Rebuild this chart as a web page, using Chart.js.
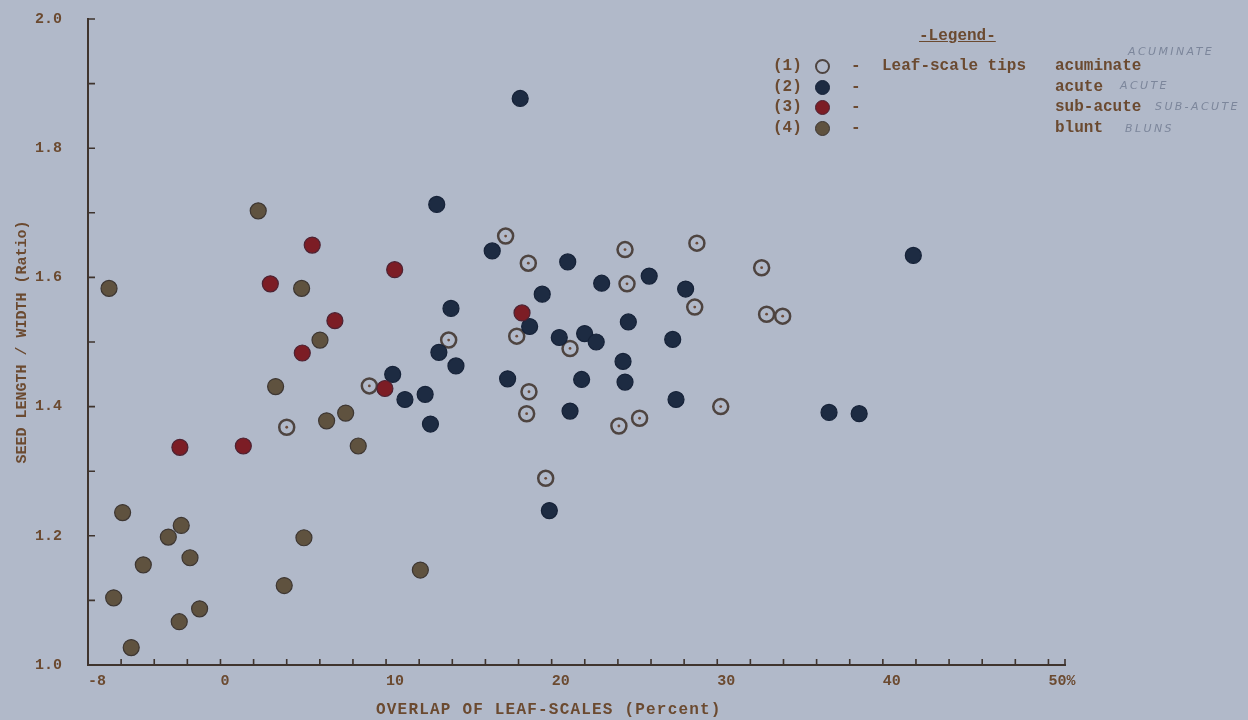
<!DOCTYPE html>
<html>
<head>
<meta charset="utf-8">
<script src="https://cdn.jsdelivr.net/npm/chart.js@4.4.1/dist/chart.umd.min.js"></script>
<style>
  html, body { margin: 0; padding: 0; }
  body { width: 1248px; height: 720px; background: #b1b9c9; position: relative; overflow: hidden; }
  #wrap { position: absolute; left: 0; top: 0; width: 1248px; height: 720px; }
  .tw { position: absolute; font-family: 'Liberation Mono', 'DejaVu Sans Mono', monospace; font-weight: bold;
        color: #6b4a30; font-size: 16px; line-height: 16px; white-space: pre; }
  .hand { position: absolute; font-family: 'DejaVu Sans', sans-serif; font-weight: 200; font-style: italic;
          color: #7c869b; font-size: 11px; line-height: 11px; letter-spacing: 2.4px; white-space: pre; }
  .dot { position: absolute; width: 15px; height: 15px; border-radius: 50%; box-sizing: border-box; }
</style>
</head>
<body>
<div id="wrap"><canvas id="chart" width="1248" height="720"></canvas></div>

<div class="tw" style="left:919px; top:28px; text-decoration: underline;">-Legend-</div>

<div class="tw" style="left:773px; top:58px;">(1)</div>
<div class="dot" style="left:815px; top:59px; border:2.5px solid #4e4440;"></div>
<div class="tw" style="left:851px; top:58px;">-</div>
<div class="tw" style="left:882px; top:58px;">Leaf-scale tips</div>
<div class="tw" style="left:1055px; top:58px;">acuminate</div>
<div class="hand" style="left:1128px; top:46px;">ACUMINATE</div>

<div class="tw" style="left:773px; top:79px;">(2)</div>
<div class="dot" style="left:815px; top:80px; background:#1d2b42; border:1px solid #162238;"></div>
<div class="tw" style="left:851px; top:79px;">-</div>
<div class="tw" style="left:1055px; top:79px;">acute</div>
<div class="hand" style="left:1120px; top:80px;">ACUTE</div>

<div class="tw" style="left:773px; top:99px;">(3)</div>
<div class="dot" style="left:815px; top:100px; background:#7c1d25; border:1px solid #4c2232;"></div>
<div class="tw" style="left:851px; top:99px;">-</div>
<div class="tw" style="left:1055px; top:99px;">sub-acute</div>
<div class="hand" style="left:1155px; top:101px;">SUB-ACUTE</div>

<div class="tw" style="left:773px; top:120px;">(4)</div>
<div class="dot" style="left:815px; top:121px; background:#5f523f; border:1px solid #3d3632;"></div>
<div class="tw" style="left:851px; top:120px;">-</div>
<div class="tw" style="left:1055px; top:120px;">blunt</div>
<div class="hand" style="left:1125px; top:123px;">BLUNS</div>

<div class="tw" id="xtitle" style="left:376px; top:702px; letter-spacing: 1.2px;"></div>

<script>
// Overlap of leaf-scales (%) and seed length / width ratio, by leaf-scale tip shape
const acuminateX = [17.22, 18.59, 24.43, 28.77, 24.55, 28.64, 17.89, 21.11, 13.78, 8.99,
                    4.00, 18.63, 18.49, 30.21, 25.31, 24.06, 19.64, 32.68, 32.98, 33.95];
const acuminateY = [1.664, 1.622, 1.643, 1.653, 1.590, 1.554, 1.509, 1.490, 1.503, 1.432,
                    1.368, 1.423, 1.389, 1.400, 1.382, 1.370, 1.289, 1.615, 1.543, 1.540];

const acuteX = [18.10, 13.06, 16.41, 20.97, 23.02, 25.89, 28.09, 19.43, 13.92, 18.67,
                20.46, 21.99, 22.69, 24.63, 27.31, 13.19, 14.22, 24.31, 17.34, 21.81,
                24.43, 21.11, 27.51, 10.40, 11.14, 12.36, 12.68, 19.86, 41.84, 36.75, 38.57];
const acuteY = [1.877, 1.713, 1.641, 1.624, 1.591, 1.602, 1.582, 1.574, 1.552, 1.524,
                1.507, 1.513, 1.500, 1.531, 1.504, 1.484, 1.463, 1.470, 1.443, 1.442,
                1.438, 1.393, 1.411, 1.450, 1.411, 1.419, 1.373, 1.239, 1.634, 1.391, 1.389];

const subAcuteX = [5.54, 10.52, 3.01, 6.91, 4.94, 9.93, -2.45, 1.38, 18.21];
const subAcuteY = [1.650, 1.612, 1.590, 1.533, 1.483, 1.428, 1.337, 1.339, 1.545];

const bluntX = [2.28, -6.73, 4.90, 6.01, 3.33, 6.41, 7.56, 8.32, -5.91, -2.37,
                -3.15, 5.04, -4.66, -1.84, 12.07, 3.85, -6.45, -1.26, -2.49, -5.39];
const bluntY = [1.703, 1.583, 1.583, 1.503, 1.431, 1.378, 1.390, 1.339, 1.236, 1.216,
                1.198, 1.197, 1.155, 1.166, 1.147, 1.123, 1.104, 1.087, 1.067, 1.027];

// Axis settings
const xMin = -8, xMax = 51, xStep = 2, xLastTick = 50;
const xLabelled = [-8, 0, 10, 20, 30, 40, 50];
const yMin = 1.0, yMax = 2.0, yStep = 0.1;
const xTitle = 'OVERLAP OF LEAF-SCALES (Percent)';
const yTitle = 'SEED LENGTH / WIDTH (Ratio)';

const INK = '#6b4a30';
const AXIS = '#3f342e';
const FONT = "'Liberation Mono', 'DejaVu Sans Mono', monospace";

document.getElementById('xtitle').textContent = xTitle;

const pts = (xs, ys) => xs.map((x, i) => ({ x: x, y: ys[i] }));

// Short tick marks drawn on the inner side of both axes
const innerTicks = {
  id: 'innerTicks',
  beforeDatasetsDraw(chart) {
    const { ctx, scales: { x, y }, chartArea } = chart;
    ctx.save();
    ctx.strokeStyle = AXIS;
    ctx.lineWidth = 1.6;
    ctx.beginPath();
    x.ticks.forEach((t, i) => {
      const px = x.getPixelForTick(i);
      ctx.moveTo(px, chartArea.bottom);
      ctx.lineTo(px, chartArea.bottom - 6);
    });
    ctx.moveTo(chartArea.right, chartArea.bottom);
    ctx.lineTo(chartArea.right, chartArea.bottom - 6);
    y.ticks.forEach((t, i) => {
      const py = y.getPixelForTick(i);
      ctx.moveTo(chartArea.left, py);
      ctx.lineTo(chartArea.left + 7, py);
    });
    ctx.stroke();
    ctx.restore();
  }
};

new Chart(document.getElementById('chart'), {
  type: 'scatter',
  data: {
    datasets: [
      { label: 'blunt', data: pts(bluntX, bluntY), pointRadius: 8, pointHoverRadius: 8,
        backgroundColor: '#5f523f', borderColor: '#3d3632', borderWidth: 1.2 },
      { label: 'sub-acute', data: pts(subAcuteX, subAcuteY), pointRadius: 8, pointHoverRadius: 8,
        backgroundColor: '#7c1d25', borderColor: '#4c2232', borderWidth: 1.2 },
      { label: 'acute', data: pts(acuteX, acuteY), pointRadius: 8, pointHoverRadius: 8,
        backgroundColor: '#1d2b42', borderColor: '#162238', borderWidth: 1.2 },
      { label: 'acuminate centre', data: pts(acuminateX, acuminateY), pointRadius: 1.4, pointHoverRadius: 1.4,
        backgroundColor: '#6b4b3a', borderColor: '#6b4b3a', borderWidth: 0 },
      { label: 'Leaf-scale tips acuminate', data: pts(acuminateX, acuminateY), pointRadius: 7.5, pointHoverRadius: 7.5,
        backgroundColor: 'rgba(0,0,0,0)', borderColor: '#4e4440', borderWidth: 2.5 }
    ]
  },
  options: {
    responsive: false,
    animation: false,
    events: [],
    layout: { padding: { left: 0, top: 19, right: 183, bottom: 0 } },
    plugins: { legend: { display: false }, tooltip: { enabled: false } },
    scales: {
      x: {
        type: 'linear', min: xMin, max: xMax,
        afterBuildTicks(scale) {
          const t = [];
          for (let v = xMin; v <= xLastTick; v += xStep) t.push({ value: v });
          scale.ticks = t;
        },
        afterFit(scale) { scale.height = 55; scale.paddingLeft = 0; scale.paddingRight = 0; },
        grid: { display: false, drawTicks: false },
        border: { display: true, color: AXIS, width: 2 },
        ticks: {
          autoSkip: false, maxRotation: 0, align: 'start', padding: 7,
          color: INK, font: { family: FONT, weight: 'bold', size: 15 },
          callback: (v) => xLabelled.includes(v) ? (v === 50 ? '50%' : String(v)) : ''
        },
        title: { display: false }
      },
      y: {
        type: 'linear', min: yMin, max: yMax,
        afterFit(scale) { scale.width = 88; scale.paddingTop = 0; scale.paddingBottom = 0; },
        grid: { display: false, drawTicks: false },
        border: { display: true, color: AXIS, width: 2 },
        ticks: {
          stepSize: yStep, autoSkip: false, padding: 26,
          color: INK, font: { family: FONT, weight: 'bold', size: 15 },
          callback: (v) => (Math.round(v * 10) % 2 === 0) ? v.toFixed(1) : ''
        },
        title: { display: true, text: yTitle, color: INK, padding: { top: 13, bottom: 0 },
                 font: { family: FONT, weight: 'bold', size: 15 } }
      }
    }
  },
  plugins: [innerTicks]
});
</script>
</body>
</html>
